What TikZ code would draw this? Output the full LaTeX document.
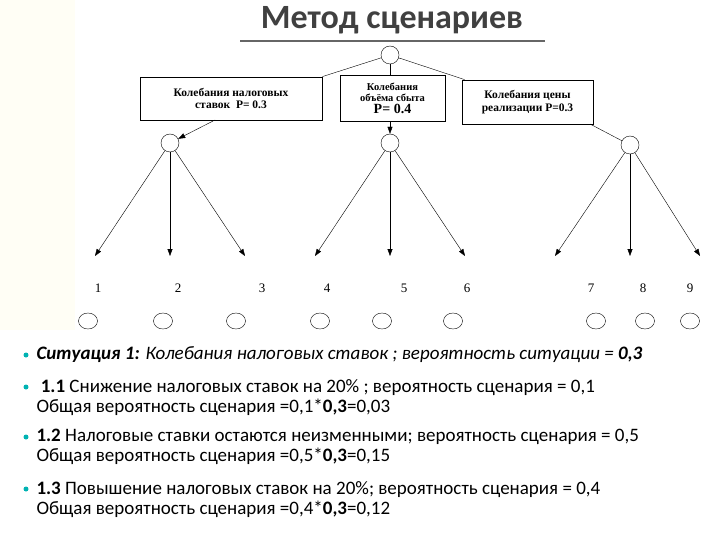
\documentclass[tikz,border=0pt]{standalone}
\usepackage{fontspec}
\setmainfont{Carlito}
\newfontfamily\tnr{Liberation Serif}
\usetikzlibrary{arrows.meta,shapes.geometric}
\begin{document}
\begin{tikzpicture}[x=1pt,y=-1pt,
  box/.style={draw,thick,font=\tnr\bfseries\fontsize{11.5}{12.5}\selectfont,align=center,inner sep=2pt},
  circ/.style={draw,circle,minimum size=18pt,inner sep=0pt},
  leaf/.style={draw,ellipse,minimum width=19pt,minimum height=16pt,inner sep=0pt},
  num/.style={font=\tnr\fontsize{13}{13}\selectfont},
  arr/.style={-{Triangle[length=7pt,width=5pt]}},
  txt/.style={anchor=west,font=\fontsize{19}{20}\selectfont,align=left},
  bul/.style={fill=teal!60!cyan,circle,inner sep=0pt,minimum size=5pt}]
\useasboundingbox (0,0) rectangle (720,540);
\fill[yellow!4] (0,0) rectangle (75,330);
\node[font=\bfseries\fontsize{34}{36}\selectfont,text=black!75] (title) at (392,20) {Метод сценариев};
\draw[line width=2pt,black!60] (240,41) -- (545,41);
\node[circ] (top) at (390,55) {};
\node[box,minimum width=182pt,minimum height=43pt] (b1) at (231,98.5) {Колебания налоговых\\ставок \ P= 0.3};
\node[box,minimum width=105pt,minimum height=46pt,font=\tnr\bfseries\fontsize{10.5}{11}\selectfont] (b2) at (392.5,98) {Колебания\\объёма сбыта\\[1pt]{\fontsize{14}{14}\selectfont P= 0.4}};
\node[box,minimum width=131pt,minimum height=44pt] (b3) at (527.5,102) {Колебания цены\\реализации P=0.3};
\draw (top) -- (b1.north east);
\draw (top) -- (b2.north -| top);
\draw (top) -- ([xshift=3pt]b3.north west);
\node[circ] (c1) at (170,143) {};
\node[circ] (c2) at (390,143) {};
\node[circ] (c3) at (630,145) {};
\coordinate (b1a) at (215,120);
\coordinate (b3a) at (590,124);
\draw[arr] (b1a) -- (c1);
\draw[arr] (b2.south -| c2) -- (c2);
\draw (b3a) -- (c3);
\foreach \c/\a/\b/\d/\n in {c1/95/170/245/1, c2/315/390/465/2, c3/555/630/700/3}{
  \coordinate (l\n a) at (\a,256);
  \coordinate (l\n b) at (\b,256);
  \coordinate (l\n c) at (\d,256);
  \draw[arr] (\c) -- (l\n a);
  \draw[arr] (\c) -- (l\n b);
  \draw[arr] (\c) -- (l\n c);
}
\foreach \x/\t in {98/1,178/2,262/3,327/4,404/5,467/6,591/7,643/8,690/9}
  \node[num] (n\t) at (\x,288) {\t};
\foreach \x/\t in {88/1,163/2,236/3,320/4,382/5,453/6,596/7,645/8,690/9}
  \node[leaf] (e\t) at (\x,321) {};
\node[bul] (u1) at (26,355) {};
\node[txt] (t1) at (33,355) {\itshape\textbf{Ситуация 1:} Колебания налоговых ставок ; вероятность ситуации = \textbf{0,3}};
\node[bul] (u2) at (26,387) {};
\node[txt,anchor=north west] (t2) at (33,376) {\ \textbf{1.1} Снижение налоговых ставок на 20\% ; вероятность сценария = 0,1\\Общая вероятность сценария =0,1*\textbf{0,3}=0,03};
\node[bul] (u3) at (26,437) {};
\node[txt,anchor=north west] (t3) at (33,426) {\textbf{1.2} Налоговые ставки остаются неизменными; вероятность сценария = 0,5\\Общая вероятность сценария =0,5*\textbf{0,3}=0,15};
\node[bul] (u4) at (26,489) {};
\node[txt,anchor=north west] (t4) at (33,478) {\textbf{1.3} Повышение налоговых ставок на 20\%; вероятность сценария = 0,4\\Общая вероятность сценария =0,4*\textbf{0,3}=0,12};
\end{tikzpicture}
\end{document}
